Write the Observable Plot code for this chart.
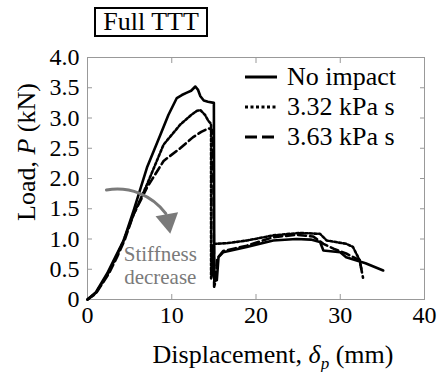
<!DOCTYPE html>
<html>
<head>
<meta charset="utf-8">
<script src="https://cdn.jsdelivr.net/npm/d3@7"></script>
<script src="https://cdn.jsdelivr.net/npm/@observablehq/plot@0.6"></script>
<style>
  html, body { margin: 0; padding: 0; background: #fff; }
  #wrap { position: relative; width: 439px; height: 372px; font-family: 'Liberation Serif', 'Times New Roman', serif; }
  #wrap svg text { font-family: 'Liberation Serif', 'Times New Roman', serif; }
  #title { position: absolute; left: 94px; top: 7px; width: 110px; height: 26px; border: 2px solid #000; font-size: 26px; line-height: 26px; text-align: center; }
  #legend { position: absolute; left: 245px; top: 62px; font-size: 26px; }
  .row { display: flex; align-items: center; height: 30px; }
  .row svg { margin-right: 10px; }
</style>
</head>
<body>
<div id="wrap">
  <div id="chart"></div>
  <div id="title">Full TTT</div>
  <div id="legend"></div>
</div>
<script>
// ---- data (displacement mm, load kN) ----
const seriesNames = ["No impact", "3.32 kPa s", "3.63 kPa s"];
const noImpact = [
  [0,0],[1,0.12],[2.33,0.43],[3.3,0.7],[4.3,0.98],[5.5,1.48],[7.06,2.18],[8.64,2.72],[9.6,3.05],
  [10.6,3.33],[11.2,3.38],[11.8,3.42],[12.3,3.45],[12.8,3.52],[13.1,3.47],[13.4,3.36],[13.8,3.29],
  [14.3,3.27],[15.0,3.25],[15.05,0.3],[15.35,0.32],[15.55,0.7],[16.1,0.78],[18.9,0.87],[22.05,0.975],
  [24.8,1.0],[26.5,0.99],[27.6,0.95],[28.0,0.81],[30.0,0.78],[30.7,0.7],[33,0.6],[35.1,0.48]
];
const impact332 = [
  [0,0],[1,0.11],[2.4,0.42],[3.4,0.7],[4.3,0.98],[5.48,1.41],[7.06,1.9],[9.03,2.56],[11.0,2.89],
  [12.3,3.05],[13.0,3.12],[13.4,3.13],[13.96,3.05],[14.36,2.95],[14.67,2.9],[14.67,0.35],[14.8,0.4],
  [14.95,0.92],[16.5,0.93],[18.9,0.975],[22.05,1.06],[25.2,1.1],[27.6,1.085],[28.4,0.975],[30.7,0.92],
  [31.5,0.87],[32.3,0.65],[32.5,0.51]
];
const impact363 = [
  [0,0],[1,0.1],[2.5,0.42],[3.5,0.7],[4.4,0.98],[5.48,1.41],[7.06,1.85],[9.03,2.29],[11.0,2.5],
  [12.5,2.68],[13.5,2.77],[14.36,2.83],[14.9,2.8],[15.03,0.21],[15.2,0.3],[15.4,0.68],[16.1,0.8],
  [18.9,0.89],[22.05,1.03],[24.8,1.07],[26.8,1.04],[28.0,0.92],[29.2,0.84],[30.7,0.76],[32.3,0.65],
  [32.7,0.36]
];
const xTicks = [0, 10, 20, 30, 40];
const yTicks = [0, 0.5, 1.0, 1.5, 2.0, 2.5, 3.0, 3.5, 4.0];
const xDomain = [0, 40];
const yDomain = [0, 4];

// annotation (data coordinates)
const arrowStart = [2.25, 1.81];
const arrowEnd = [9.3, 1.42];
const arrowHead = [9.55, 1.3];
const noteText = "Stiffness\ndecrease";
const notePos = [8.64, 0.565];

const serif = "'Liberation Serif', 'Times New Roman', serif";
const styles = [
  {stroke: "#000", strokeWidth: 2.6},
  {stroke: "#000", strokeWidth: 2.6, strokeDasharray: "2.6,2"},
  {stroke: "#000", strokeWidth: 2.6, strokeDasharray: "8,4"}
];
const allSeries = [noImpact, impact332, impact363];

const ticksOnly = {text: null, label: null, stroke: "#999", tickSize: -5};
const chart = Plot.plot({
  width: 439, height: 372,
  marginLeft: 87, marginRight: 15, marginTop: 57, marginBottom: 73,
  x: {domain: xDomain},
  y: {domain: yDomain},
  style: {fontFamily: serif, fontSize: "24px", color: "#000", background: "#fff"},
  marks: [
    Plot.frame({stroke: "#999"}),
    Plot.axisX({ticks: xTicks, tickSize: 0, tickPadding: 6, label: null, fontSize: 24}),
    Plot.axisY({ticks: yTicks, tickSize: 0, tickPadding: 8, label: null, fontSize: 24,
      tickFormat: d => d === 0 ? "0" : d.toFixed(1)}),
    Plot.axisX({ticks: xTicks, anchor: "bottom", ...ticksOnly}),
    Plot.axisX({ticks: xTicks, anchor: "top", ...ticksOnly}),
    Plot.axisY({ticks: yTicks, anchor: "left", ...ticksOnly}),
    Plot.axisY({ticks: yTicks, anchor: "right", ...ticksOnly}),
    ...allSeries.map((s, i) => Plot.line(s, {x: d => d[0], y: d => d[1], ...styles[i], strokeLinejoin: "round"})),
    Plot.arrow([0], {x1: () => arrowStart[0], y1: () => arrowStart[1], x2: () => arrowEnd[0], y2: () => arrowEnd[1],
      bend: 32, headLength: 0, stroke: "#7a7a7a", strokeWidth: 3}),
    Plot.dot([arrowHead], {x: d => d[0], y: d => d[1], symbol: "triangle", r: 8.5, rotate: 170, fill: "#7a7a7a", stroke: "none"}),
    Plot.text([notePos], {x: d => d[0], y: d => d[1], text: () => noteText, fill: "#7a7a7a", fontSize: 21, lineHeight: 1.1, textAnchor: "middle"})
  ]
});
document.getElementById("chart").appendChild(chart);

// axis labels with italic / subscript parts
const svg = d3.select(chart);
const xl = svg.append("text").attr("x", 273).attr("y", 363).attr("text-anchor", "middle")
  .attr("font-family", serif).attr("font-size", 26).attr("fill", "#000");
xl.append("tspan").text("Displacement, ");
xl.append("tspan").attr("font-style", "italic").text("δ");
xl.append("tspan").attr("font-style", "italic").attr("font-size", 17).attr("dy", 6).text("p");
xl.append("tspan").attr("dy", -6).text(" (mm)");

const yl = svg.append("text").attr("transform", "translate(35,152) rotate(-90)").attr("text-anchor", "middle")
  .attr("font-family", serif).attr("font-size", 26).attr("fill", "#000");
yl.append("tspan").text("Load, ");
yl.append("tspan").attr("font-style", "italic").text("P");
yl.append("tspan").text(" (kN)");

// legend
const legend = d3.select("#legend");
seriesNames.forEach((name, i) => {
  const row = legend.append("div").attr("class", "row");
  const s = row.append("svg").attr("width", 32).attr("height", 10);
  s.append("line").attr("x1", 0).attr("x2", 32).attr("y1", 5).attr("y2", 5)
    .attr("stroke", "#000").attr("stroke-width", 3)
    .attr("stroke-dasharray", i === 1 ? "3,2.5" : i === 2 ? "12,5" : null);
  row.append("span").text(name);
});
</script>
</body>
</html>
